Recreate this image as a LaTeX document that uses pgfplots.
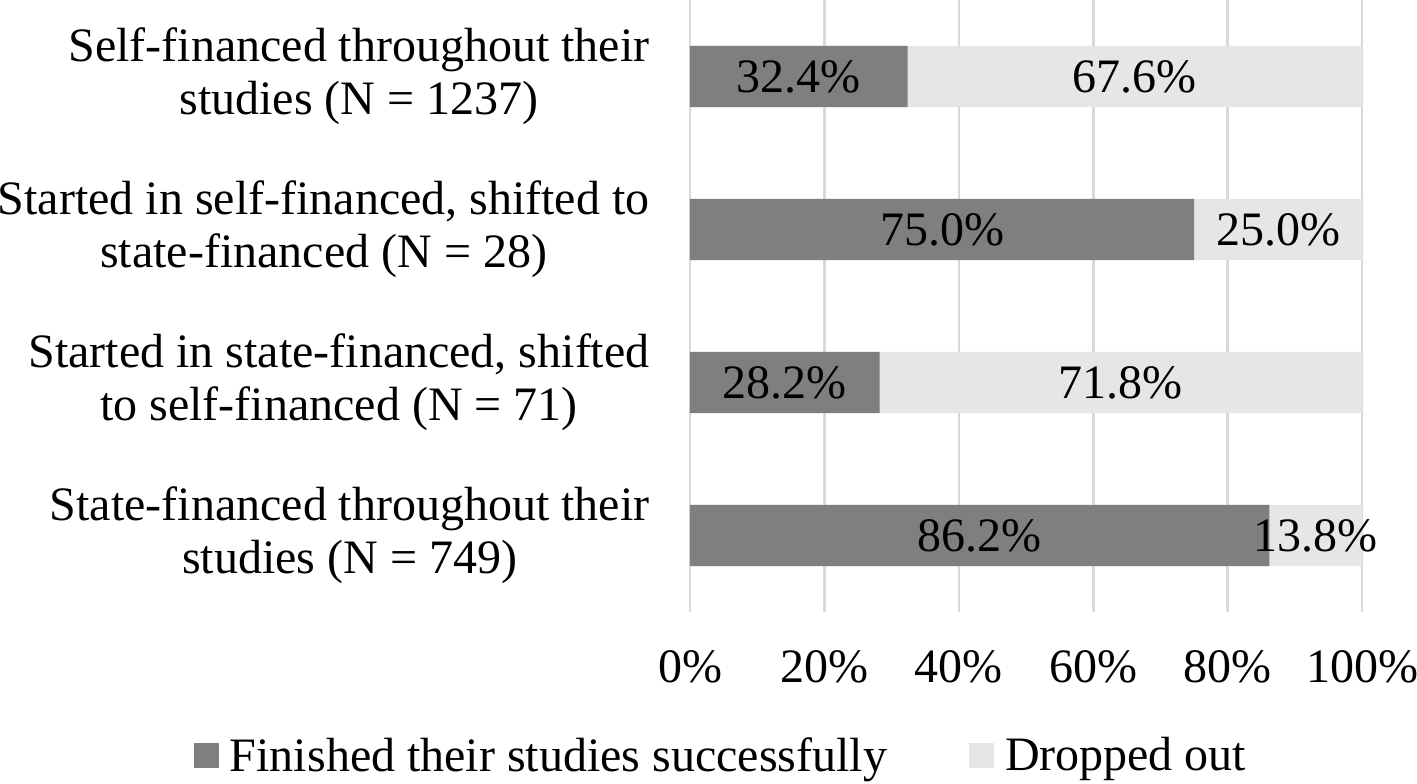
\documentclass[border=0pt]{standalone}
\usepackage{pgfplots}
\pgfplotsset{compat=1.18}
\usepackage{pgfplotstable}
\usepackage{fontspec}
\setmainfont{Liberation Serif}

\definecolor{finished}{HTML}{7F7F7F}
\definecolor{dropped}{HTML}{E6E6E6}
\definecolor{gridgray}{HTML}{D9D9D9}

% y = row position (3 = top), shares in percent
\pgfplotstableread{
y fin drop
3 32.4 67.6
2 75.0 25.0
1 28.2 71.8
0 86.2 13.8
}\shares

\begin{document}
\begin{tikzpicture}[font=\fontsize{24bp}{26.5bp}\selectfont]
\useasboundingbox (0,0) rectangle (708.5bp,392bp);
\begin{axis}[
    at={(345bp,86bp)}, anchor=south west,
    scale only axis,
    width=336bp, height=306bp,
    xmin=0, xmax=100,
    ymin=-0.5, ymax=3.5,
    xtick={0,20,...,100},
    xticklabel={\pgfmathprintnumber{\tick}\%},
    ytick={0,1,2,3},
    yticklabels={
        {State-financed throughout their\\studies (N = 749)},
        {Started in state-financed, shifted\\to self-financed (N = 71)},
        {Started in self-financed, shifted to\\state-financed (N = 28)},
        {Self-financed throughout their\\studies (N = 1237)}},
    yticklabel style={align=center, inner sep=0pt, xshift=-20bp},
    xticklabel style={inner sep=0pt, yshift=-19bp},
    xmajorgrids,
    major grid style={gridgray, line width=1.3bp},
    axis line style={draw=none},
    tick style={draw=none},
    /pgf/number format/assume math mode=true,
    legend columns=2,
    legend style={at={(0.045,-0.235)}, anchor=center, draw=none, fill=none,
        /tikz/every odd column/.append style={column sep=5.5bp},
        /tikz/every even column/.append style={column sep=41bp},
        nodes={inner sep=0pt}},
]
\addlegendimage{legend image code/.code={\fill[finished] (0bp,-6bp) rectangle (12bp,6bp);}}
\addlegendentry{Finished their studies successfully}
\addlegendimage{legend image code/.code={\fill[dropped] (0bp,-6bp) rectangle (12bp,6bp);}}
\addlegendentry{Dropped out}

% full bar (dropped part shows beyond the finished share)
\addplot[xbar, bar width=0.4, bar shift=0pt, fill=dropped, draw=none, forget plot]
    table[x expr=\thisrow{fin}+\thisrow{drop}, y=y]{\shares};
\addplot[xbar, bar width=0.4, bar shift=0pt, fill=finished, draw=none, forget plot]
    table[x=fin, y=y]{\shares};

% labels centred in each segment
\addplot[draw=none, mark=none, forget plot,
    point meta=explicit symbolic,
    nodes near coords={\pgfplotspointmeta\%},
    nodes near coords style={anchor=center, inner sep=0pt}]
    table[x expr=\thisrow{fin}/2, y=y, meta=fin]{\shares};
\addplot[draw=none, mark=none, forget plot,
    point meta=explicit symbolic,
    nodes near coords={\pgfplotspointmeta\%},
    nodes near coords style={anchor=center, inner sep=0pt}]
    table[x expr=\thisrow{fin}+\thisrow{drop}/2, y=y, meta=drop]{\shares};
\end{axis}
\end{tikzpicture}
\end{document}
